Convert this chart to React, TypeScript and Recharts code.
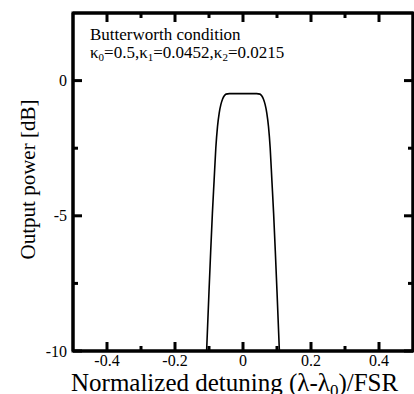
import React from 'react';
import { LineChart, Line, XAxis, YAxis, ReferenceArea } from 'recharts';

// filter response
const detuning = [
  -0.107, -0.1, -0.095, -0.09, -0.085, -0.08, -0.075, -0.07, -0.065, -0.06, -0.055, -0.05, -0.04, -0.02, 0,
  0.02, 0.04, 0.05, 0.055, 0.06, 0.065, 0.07, 0.075, 0.08, 0.085, 0.09, 0.095, 0.1, 0.107,
];
const power = [
  -10, -7.8, -6.3, -4.9, -3.7, -2.5, -1.7, -1.2, -0.88, -0.68, -0.56, -0.5, -0.48, -0.48, -0.48,
  -0.48, -0.48, -0.5, -0.56, -0.68, -0.88, -1.2, -1.7, -2.5, -3.7, -4.9, -6.3, -7.8, -10,
];

const xTicks = [-0.4, -0.3, -0.2, -0.1, 0, 0.1, 0.2, 0.3, 0.4];
const xLabels = [-0.4, -0.2, 0, 0.2, 0.4];
const yTicks = [-10, -7.5, -5, -2.5, 0];
const yLabels = [-10, -5, 0];
const xDomain = [-0.5, 0.5];
const yDomain = [-10, 2.5];

const data = detuning.map((d, i) => ({ d, p: power[i] }));

const FONT = '"Liberation Serif", "Times New Roman", serif';
const MINOR = 5;
const MAJOR = 9;
const TICK_W = 3;

// ticks point inward, drawn here so major and minor can differ in length
const BottomTick = (props: any) => {
  const { x, y, payload } = props;
  const major = xLabels.includes(payload.value);
  return (
    <g>
      <path d={`M${x},${y}V${y - (major ? MAJOR : MINOR)}`} stroke="#000" strokeWidth={TICK_W} fill="none" />
      {major && (
        <text x={x} y={y + 15} textAnchor="middle" fontSize={16} fontFamily={FONT} fill="#000" stroke="none">
          {payload.value}
        </text>
      )}
    </g>
  );
};

const TopTick = (props: any) => {
  const { x, y, payload } = props;
  const len = xLabels.includes(payload.value) ? MAJOR : MINOR;
  return <path d={`M${x},${y}V${y + len}`} stroke="#000" strokeWidth={TICK_W} fill="none" />;
};

const LeftTick = (props: any) => {
  const { x, y, payload } = props;
  const major = yLabels.includes(payload.value);
  return (
    <g>
      <path d={`M${x},${y}H${x + (major ? MAJOR : MINOR)}`} stroke="#000" strokeWidth={TICK_W} fill="none" />
      {major && (
        <text x={x - 6} y={y + 5.5} textAnchor="end" fontSize={16} fontFamily={FONT} fill="#000" stroke="none">
          {payload.value}
        </text>
      )}
    </g>
  );
};

const RightTick = (props: any) => {
  const { x, y, payload } = props;
  const len = yLabels.includes(payload.value) ? MAJOR : MINOR;
  return <path d={`M${x},${y}H${x - len}`} stroke="#000" strokeWidth={TICK_W} fill="none" />;
};

const axisLine = { stroke: '#000', strokeWidth: 3 };

export default function App() {
  return (
    <div style={{ position: 'absolute', left: 0, top: 0, width: 414, height: 394, background: '#fff' }}>
      <LineChart width={414} height={394} data={data} margin={{ top: 12, right: 0, bottom: 0, left: 0 }}>
        <XAxis
          dataKey="d"
          type="number"
          domain={xDomain}
          allowDataOverflow
          ticks={xTicks}
          height={43}
          tickSize={0}
          tickMargin={0}
          tickLine={false}
          axisLine={axisLine}
          tick={BottomTick}
          interval={0}
        />
        <XAxis
          xAxisId="top"
          dataKey="d"
          orientation="top"
          type="number"
          domain={xDomain}
          allowDataOverflow
          ticks={xTicks}
          height={1}
          tickSize={0}
          tickMargin={0}
          tickLine={false}
          axisLine={axisLine}
          tick={TopTick}
          interval={0}
        />
        <YAxis
          type="number"
          domain={yDomain}
          allowDataOverflow
          ticks={yTicks}
          width={73}
          tickSize={0}
          tickMargin={0}
          tickLine={false}
          axisLine={axisLine}
          tick={LeftTick}
          interval={0}
        />
        <YAxis
          yAxisId="right"
          orientation="right"
          type="number"
          domain={yDomain}
          allowDataOverflow
          ticks={yTicks}
          width={1}
          tickSize={0}
          tickMargin={0}
          tickLine={false}
          axisLine={axisLine}
          tick={RightTick}
          interval={0}
        />
        <ReferenceArea
          x1={xDomain[0]}
          x2={xDomain[1]}
          y1={yDomain[0]}
          y2={yDomain[1]}
          fill="none"
          fillOpacity={0}
          stroke="#000"
          strokeWidth={3}
        />
        <Line
          xAxisId="top"
          yAxisId="right"
          dataKey="p"
          stroke="none"
          dot={false}
          legendType="none"
          isAnimationActive={false}
        />
        <Line
          dataKey="p"
          type="monotone"
          stroke="#000"
          strokeWidth={1.6}
          dot={false}
          isAnimationActive={false}
        />
      </LineChart>
      <svg
        width={414}
        height={394}
        style={{ position: 'absolute', left: 0, top: 0, pointerEvents: 'none' }}
        fontFamily={FONT}
        fill="#000"
      >
        <text x={90} y={40} fontSize={17}>
          Butterworth condition
        </text>
        <text x={90} y={58} fontSize={17}>
          κ<tspan dy={3} fontSize={11}>0</tspan>
          <tspan dy={-3}>=0.5,κ</tspan>
          <tspan dy={3} fontSize={11}>1</tspan>
          <tspan dy={-3}>=0.0452,κ</tspan>
          <tspan dy={3} fontSize={11}>2</tspan>
          <tspan dy={-3}>=0.0215</tspan>
        </text>
        <text x={35} y={179.5} fontSize={21} textAnchor="middle" transform="rotate(-90 35 179.5)">
          Output power [dB]
        </text>
        <text x={71} y={391} fontSize={25}>
          Normalized detuning (λ-λ<tspan dy={5} fontSize={17}>0</tspan>
          <tspan dy={-5}>)/FSR</tspan>
        </text>
      </svg>
    </div>
  );
}
